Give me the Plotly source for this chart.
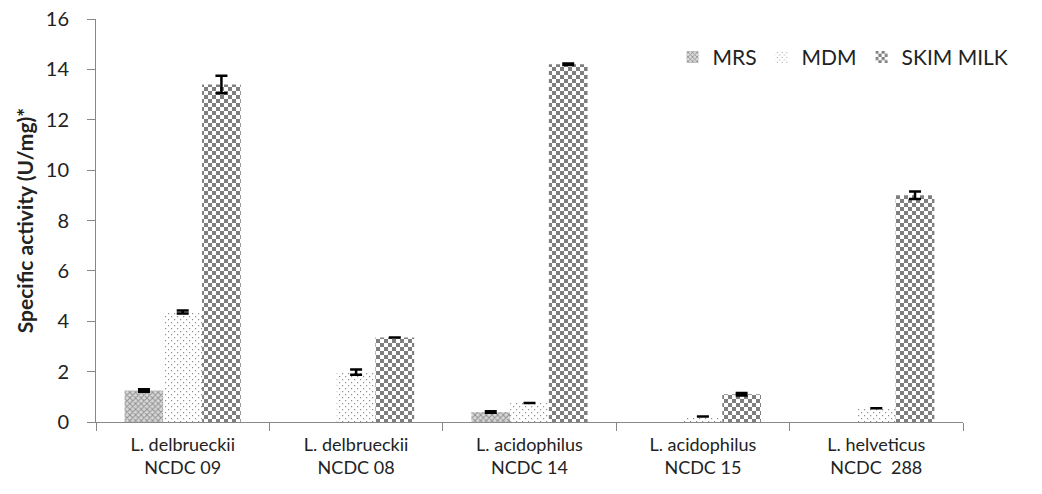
import plotly.graph_objects as go

categories = ["L. delbrueckii<br>NCDC 09", "L. delbrueckii<br>NCDC 08",
              "L. acidophilus<br>NCDC 14", "L. acidophilus<br>NCDC 15",
              "L. helveticus<br>NCDC  288"]
mrs = [1.25, None, 0.4, None, None]
mrs_err = [0.05, 0, 0.03, 0, 0]
mdm = [4.37, 1.98, 0.75, 0.22, 0.55]
mdm_err = [0.06, 0.1, 0, 0, 0]
skim = [13.4, 3.35, 14.2, 1.1, 9.0]
skim_err = [0.35, 0, 0.03, 0.05, 0.15]

font_family = "Lato, 'Open Sans', sans-serif"
err_style = dict(type="data", color="black", thickness=2.5, width=6)

fig = go.Figure()
fig.add_trace(go.Bar(
    name="MRS", x=categories, y=mrs,
    error_y=dict(err_style, array=mrs_err),
    marker=dict(color="white", line=dict(width=0),
                pattern=dict(shape="x", fgcolor="#4a4a4a", bgcolor="#d8d8d8", size=4, solidity=0.45)),
))
fig.add_trace(go.Bar(
    name="MDM", x=categories, y=mdm,
    error_y=dict(err_style, array=mdm_err),
    marker=dict(color="white", line=dict(width=0),
                pattern=dict(path="M0,0H1.2V1.2H0Z M3,3H4.2V4.2H3Z", fgcolor="#222222",
                             bgcolor="white", size=6)),
))
fig.add_trace(go.Bar(
    name="SKIM MILK", x=categories, y=skim,
    error_y=dict(err_style, array=skim_err),
    marker=dict(color="white", line=dict(width=0),
                pattern=dict(path="M0,0H4V4H0Z M4,4H8V8H4Z", fgcolor="black",
                             bgcolor="white", size=8)),
))

fig.update_layout(
    width=1042, height=494,
    margin=dict(l=96, r=79, t=19, b=72, autoexpand=False),
    paper_bgcolor="white", plot_bgcolor="white",
    barmode="group", bargap=0.33, bargroupgap=0,
    font=dict(family=font_family, size=18, color="#222222"),
    showlegend=True,
    legend=dict(orientation="h", x=0.665, y=0.905, xanchor="left", yanchor="middle",
                font=dict(size=21), bgcolor="rgba(0,0,0,0)", itemwidth=30),
    xaxis=dict(showline=True, linecolor="#888888", linewidth=1,
               ticks="outside", tickson="boundaries", ticklen=8, tickcolor="#888888",
               showgrid=False, tickfont=dict(size=18), automargin=False,
               ticklabelstandoff=6),
    yaxis=dict(range=[0, 16], dtick=2, showline=True, linecolor="#888888", linewidth=1,
               ticks="outside", ticklen=8, tickcolor="#888888", showgrid=False,
               zeroline=False, tickfont=dict(size=20), automargin=False,
               ticklabelstandoff=14,
               title=dict(text="<b>Specific activity (U/mg)*</b>", font=dict(size=21), standoff=6)),
)

fig.write_html("out.html", post_script="document.body.style.margin='0';",
               config={"displayModeBar": False})
